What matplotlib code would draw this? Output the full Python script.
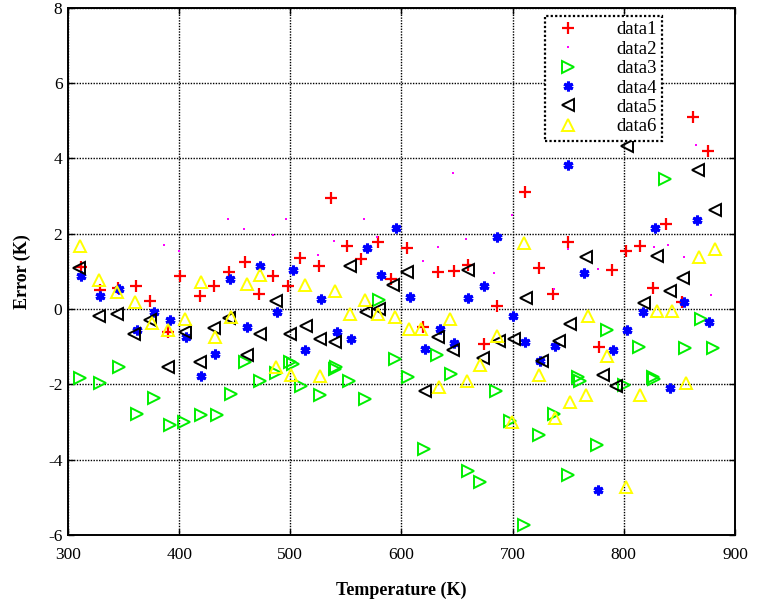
import matplotlib
matplotlib.use("Agg")
import matplotlib.pyplot as plt

# ---- data ----
d1_x = [312, 329, 345, 361, 374, 390, 401, 419, 431, 445, 459, 472, 484, 498, 509,
        526, 537, 551, 564, 579, 591, 605, 619, 633, 647, 660, 674, 686,
        711, 724, 736, 750, 778, 789, 802, 815, 826, 838, 852, 862, 876]
d1_y = [1.11, 0.51, 0.57, 0.62, 0.20, -0.60, 0.88, 0.34, 0.60, 0.99, 1.24, 0.41, 0.87, 0.60, 1.36,
        1.15, 2.95, 1.68, 1.34, 1.78, 0.79, 1.61, -0.49, 0.97, 1.01, 1.17, -0.93, 0.07,
        3.10, 1.08, 0.40, 1.78, -1.00, 1.03, 1.54, 1.68, 0.55, 2.27, 0.18, 5.10, 4.19]

d2_x = [386, 400, 444, 458, 484, 496, 525, 539, 566, 578, 619, 633, 646, 658, 683, 699,
        737, 750, 777, 827, 840, 854, 865, 878]
d2_y = [1.70, 1.54, 2.38, 2.12, 1.97, 2.38, 1.43, 1.81, 2.38, 1.91, 1.28, 1.65, 3.62, 1.85, 0.95, 2.49,
        0.53, 1.59, 1.06, 1.65, 1.69, 1.39, 4.35, 0.37]

d3_x = [311, 329, 346, 362, 377, 392, 404, 420, 434, 447, 459, 473, 487, 500, 502, 510,
        527, 540, 541, 553, 567, 580, 594, 606, 620, 632, 645, 660, 671, 685, 698, 710,
        724, 737, 750, 759, 761, 776, 785, 800, 814, 826, 827, 837, 855, 869, 880]
d3_y = [-1.84, -1.97, -1.54, -2.78, -2.37, -3.09, -3.00, -2.82, -2.81, -2.25, -1.41, -1.92, -1.70, -1.41, -1.46, -2.05,
        -2.29, -1.59, -1.54, -1.90, -2.40, 0.25, -1.32, -1.80, -3.72, -1.23, -1.72, -4.31, -4.59, -2.19, -2.98, -5.74,
        -3.35, -2.78, -4.40, -1.80, -1.92, -3.62, -0.55, -2.03, -1.01, -1.80, -1.87, 3.44, -1.03, -0.26, -1.03]

d4_x = [312, 329, 346, 362, 377, 392, 406, 420, 432, 446, 461, 473, 488, 502,
        513, 528, 542, 555, 569, 582, 595, 608, 621, 635, 647, 660, 674, 686, 700, 711,
        725, 738, 750, 764, 777, 790, 803, 817, 828, 842, 854, 866, 877]
d4_y = [0.87, 0.34, 0.53, -0.57, -0.09, -0.28, -0.75, -1.77, -1.19, 0.81, -0.49, 1.15, -0.09, 1.04,
        -1.10, 0.26, -0.62, -0.81, 1.61, 0.90, 2.16, 0.31, -1.06, -0.53, -0.91, 0.28, 0.60, 1.90, -0.18, -0.88,
        -1.37, -0.97, 3.83, 0.95, -4.81, -1.08, -0.55, -0.09, 2.14, -2.09, 0.18, 2.36, -0.35]

d5_x = [310, 328, 344, 359, 374, 390, 405, 419, 431, 445, 461, 473, 487, 500,
        514, 527, 540, 554, 568, 580, 592, 605, 621, 633, 646, 660, 673, 688, 701, 712,
        726, 742, 752, 766, 781, 793, 803, 818, 830, 842, 853, 867, 882]
d5_y = [1.10, -0.18, -0.13, -0.66, -0.28, -1.54, -0.60, -1.41, -0.51, -0.25, -1.22, -0.66, 0.22, -0.66,
        -0.44, -0.79, -0.88, 1.15, -0.07, 0.00, 0.64, 0.99, -2.19, -0.75, -1.08, 1.03, -1.31, -0.86, -0.79, 0.28,
        -1.37, -0.84, -0.41, 1.37, -1.74, -2.05, 4.33, 0.16, 1.41, 0.48, 0.82, 3.70, 2.62]

d6_x = [311, 328, 344, 360, 376, 390, 405, 420, 432, 447, 461, 473, 487, 501, 513,
        527, 540, 554, 567, 579, 594, 607, 618, 634, 644, 659, 671, 686, 699, 710,
        724, 738, 752, 766, 768, 785, 802, 815, 830, 843, 856, 868, 882]
d6_y = [1.68, 0.77, 0.46, 0.19, -0.37, -0.56, -0.26, 0.72, -0.75, -0.22, 0.66, 0.90, -1.54, -1.76, 0.64,
        -1.78, 0.49, -0.13, 0.25, -0.13, -0.22, -0.53, -0.53, -2.07, -0.26, -1.90, -1.50, -0.71, -3.00, 1.74,
        -1.76, -2.90, -2.47, -2.28, -0.18, -1.25, -4.72, -2.28, -0.04, -0.04, -1.96, 1.37, 1.60]

labels = ["data1", "data2", "data3", "data4", "data5", "data6"]
x_ticks = [300, 400, 500, 600, 700, 800, 900]
y_ticks = [-6, -4, -2, 0, 2, 4, 6, 8]

plt.rcParams['font.family'] = ['Liberation Serif', 'DejaVu Serif']
plt.rcParams['mathtext.default'] = 'regular'
plt.rcParams['axes.unicode_minus'] = False

fig = plt.figure(figsize=(7.68, 6.01), dpi=100)
ax = fig.add_axes([0.0885, 0.110, 0.8685, 0.877])

ax.plot(d1_x, d1_y, linestyle='none', marker='+', color='red', markersize=8.5, markeredgewidth=1.6, label=labels[0])
ax.plot(d2_x, d2_y, linestyle='none', marker='s', color='magenta', markersize=1.6, markeredgewidth=0, label=labels[1])
ax.plot(d3_x, d3_y, linestyle='none', marker='>', color='#00ee00', markerfacecolor='none', markersize=8, markeredgewidth=1.4, label=labels[2])
ax.plot(d4_x, d4_y, linestyle='none', marker=(6, 2, 0), color='blue', markersize=7, markeredgewidth=2.2, label=labels[3])
ax.plot(d5_x, d5_y, linestyle='none', marker='<', color='black', markerfacecolor='none', markersize=8, markeredgewidth=1.4, label=labels[4])
ax.plot(d6_x, d6_y, linestyle='none', marker='^', color='yellow', markerfacecolor='none', markersize=9, markeredgewidth=1.4, label=labels[5])

ax.set_xlim(300, 900)
ax.set_ylim(-6, 8)
ax.set_xticks(x_ticks)
ax.set_yticks(y_ticks)
ax.grid(True, color='black', linestyle=(0, (1, 1)), linewidth=1.0)
ax.tick_params(direction='in', length=4, width=1, labelsize=12.5, top=True, right=True)
ax.tick_params(axis='x', pad=9)
ax.tick_params(axis='y', pad=4)
for s in ax.spines.values():
    s.set_linewidth(1.4)

ax.set_xlabel('Temperature (K)', fontsize=13, fontweight='bold', labelpad=13)
ax.set_ylabel('Error (K)', fontsize=13, fontweight='bold', labelpad=12)

leg = ax.legend(loc='upper left', bbox_to_anchor=(0.715, 0.985), borderaxespad=0.0, fancybox=False, framealpha=1,
                edgecolor='black', fontsize=13.5, handletextpad=1.6, borderpad=0.3, labelspacing=0.12,
                handlelength=1.9, markerscale=1.0)
leg.get_frame().set_linewidth(1.6)
leg.get_frame().set_linestyle((0, (1, 1)))

fig.savefig('out.png', dpi=100)
